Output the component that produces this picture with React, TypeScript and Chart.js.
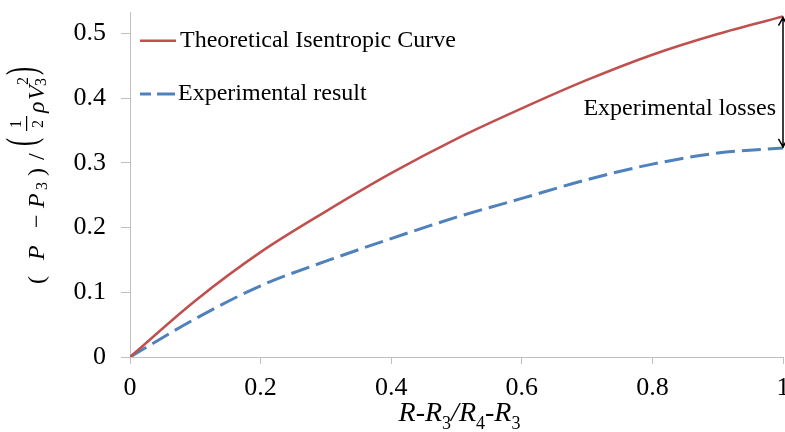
import React, { useEffect, useRef } from 'react';
import { Chart, registerables } from 'chart.js';

Chart.register(...registerables);

const xValues = [0, 0.1, 0.2, 0.3, 0.4, 0.5, 0.6, 0.7, 0.8, 0.9, 1];
const theoretical = [0, 0.087, 0.162, 0.225, 0.284, 0.337, 0.384, 0.428, 0.467, 0.499, 0.526];
const experimental = [0, 0.059, 0.11, 0.148, 0.183, 0.216, 0.245, 0.274, 0.298, 0.315, 0.323];
const xTicks = [0, 0.2, 0.4, 0.6, 0.8, 1];
const xTickLabels = ['0', '0.2', '0.4', '0.6', '0.8', '1'];
const yTicks = [0, 0.1, 0.2, 0.3, 0.4, 0.5];
const yTickLabels = ['0', '0.1', '0.2', '0.3', '0.4', '0.5'];
const seriesNames = ['Theoretical Isentropic Curve', 'Experimental result'];
const annotationText = 'Experimental losses';

const SERIF = '"Liberation Serif", "Times New Roman", serif';
const RED = '#C0504D';
const BLUE = '#4F81BD';
const AXIS = '#BFBFBF';

type Piece = { t: string; it?: boolean; size?: number; u?: number; v?: number; stretch?: number };

const overlayPlugin = {
  id: 'overlay',
  afterDraw(chart: any) {
    const { ctx, chartArea, scales } = chart;
    const xs = scales.x;
    const ys = scales.y;
    ctx.save();

    // ---- legend (inside plot, top-left)
    const lx = chartArea.left + 10;
    ctx.lineWidth = 2.5;
    ctx.strokeStyle = RED;
    ctx.beginPath();
    ctx.moveTo(lx, 40.7);
    ctx.lineTo(lx + 36, 40.7);
    ctx.stroke();
    ctx.strokeStyle = BLUE;
    ctx.lineWidth = 3;
    ctx.setLineDash([18, 6]);
    ctx.lineDashOffset = 7;
    ctx.beginPath();
    ctx.moveTo(lx, 94);
    ctx.lineTo(lx + 35, 94);
    ctx.stroke();
    ctx.setLineDash([]);
    ctx.lineDashOffset = 0;
    ctx.fillStyle = '#000';
    ctx.font = `24px ${SERIF}`;
    ctx.textBaseline = 'middle';
    ctx.textAlign = 'left';
    ctx.fillText(seriesNames[0], lx + 40, 41);
    ctx.fillText(seriesNames[1], lx + 38, 94);

    // ---- double arrow between last points
    const last = xValues.length - 1;
    const ax = xs.getPixelForValue(xValues[last]);
    const y1 = ys.getPixelForValue(theoretical[last]);
    const y2 = ys.getPixelForValue(experimental[last]);
    ctx.strokeStyle = '#000';
    ctx.lineWidth = 1.5;
    ctx.beginPath();
    ctx.moveTo(ax, y1);
    ctx.lineTo(ax, y2);
    ctx.moveTo(ax - 4.5, y1 + 9);
    ctx.lineTo(ax, y1 + 1);
    ctx.lineTo(ax + 4.5, y1 + 9);
    ctx.moveTo(ax - 4.5, y2 - 9);
    ctx.lineTo(ax, y2 - 1);
    ctx.lineTo(ax + 4.5, y2 - 9);
    ctx.stroke();
    ctx.font = `24px ${SERIF}`;
    ctx.textAlign = 'right';
    ctx.textBaseline = 'alphabetic';
    ctx.fillText(annotationText, ax - 7, y1 + 0.75 * (y2 - y1));

    // ---- x axis title: R-R3/R4-R3
    const xPieces: Piece[] = [
      { t: 'R', it: true },
      { t: '-' },
      { t: 'R', it: true },
      { t: '3', size: 18, v: 8 },
      { t: '/', it: true },
      { t: 'R', it: true },
      { t: '4', size: 18, v: 8 },
      { t: '-' },
      { t: 'R', it: true },
      { t: '3', size: 18, v: 8 },
    ];
    const fontOf = (p: Piece, base: number) =>
      `${p.it ? 'italic ' : ''}${p.size || base}px ${SERIF}`;
    let total = 0;
    const widths = xPieces.map((p) => {
      ctx.font = fontOf(p, 28);
      const w = ctx.measureText(p.t).width;
      total += w;
      return w;
    });
    let cx = (chartArea.left + chartArea.right) / 2 + 3 - total / 2;
    const xBase = 421;
    ctx.textAlign = 'left';
    ctx.textBaseline = 'alphabetic';
    xPieces.forEach((p, i) => {
      ctx.font = fontOf(p, 28);
      ctx.fillText(p.t, cx, xBase + (p.v || 0));
      cx += widths[i];
    });

    // ---- y axis title (rotated): (P − P3) / (1/2 ρ V3^2)
    ctx.translate(43.5, 290);
    ctx.rotate(-Math.PI / 2);
    const yPieces: Piece[] = [
      { t: '(', u: 6 },
      { t: 'P', it: true, u: 30 },
      { t: '\u2212', u: 62 },
      { t: 'P', it: true, u: 82 },
      { t: '3', size: 16, u: 100, v: 3 },
      { t: ')', u: 114 },
      { t: '/', u: 130 },
      { t: '(', u: 144, v: 1, stretch: 1.8 },
      { t: 'ρ', it: true, u: 177 },
      { t: 'V', it: true, u: 190 },
      { t: '2', size: 16, u: 205, v: -15.5 },
      { t: '3', size: 16, u: 204, v: 2 },
      { t: ')', u: 215, v: 1, stretch: 1.8 },
    ];
    yPieces.forEach((p) => {
      ctx.font = fontOf(p, 24);
      if (p.stretch) {
        ctx.save();
        // scale perpendicular to the baseline; anchor the paren's centre at v = -18.5
        ctx.translate(p.u || 0, -18.5);
        ctx.scale(1, p.stretch);
        ctx.fillText(p.t, 0, 5.8);
        ctx.restore();
      } else {
        ctx.fillText(p.t, p.u || 0, p.v || 0);
      }
    });
    // fraction 1/2
    ctx.font = `16px ${SERIF}`;
    ctx.textAlign = 'center';
    ctx.fillText('1', 166, -22.8);
    ctx.fillText('2', 166, -0.8);
    ctx.fillRect(159, -17.5, 15, 1.2);

    ctx.restore();
  },
};

export default function App() {
  const ref = useRef<HTMLCanvasElement>(null);
  useEffect(() => {
    const canvas = ref.current;
    if (!canvas) return;
    const chart = new Chart(canvas, {
      type: 'line',
      data: {
        datasets: [
          {
            label: seriesNames[0],
            data: xValues.map((x, i) => ({ x, y: theoretical[i] })),
            borderColor: RED,
            borderWidth: 2.5,
            pointRadius: 0,
            fill: false,
            cubicInterpolationMode: 'monotone',
          },
          {
            label: seriesNames[1],
            data: xValues.map((x, i) => ({ x, y: experimental[i] })),
            borderColor: BLUE,
            borderWidth: 3,
            borderDash: [19, 7],
            pointRadius: 0,
            fill: false,
            cubicInterpolationMode: 'monotone',
          },
        ],
      },
      options: {
        responsive: false,
        animation: false,
        devicePixelRatio: 1,
        layout: { padding: { left: 0, right: 17, top: 12, bottom: 0 } },
        plugins: { legend: { display: false }, tooltip: { enabled: false } },
        scales: {
          x: {
            type: 'linear',
            min: 0,
            max: 1,
            afterBuildTicks: (s: any) => {
              s.ticks = xTicks.map((value) => ({ value }));
            },
            afterFit: (s: any) => {
              s.height = 75;
              s.paddingLeft = 0;
              s.paddingRight = 0;
            },
            grid: { drawOnChartArea: false, drawTicks: true, tickLength: 7, color: AXIS },
            border: { display: true, color: AXIS, width: 1 },
            ticks: {
              padding: 9,
              color: '#000',
              font: { family: SERIF, size: 26 },
              maxRotation: 0,
              callback: (_v: any, i: number) => xTickLabels[i],
            },
          },
          y: {
            type: 'linear',
            min: 0,
            max: 0.533,
            afterBuildTicks: (s: any) => {
              s.ticks = yTicks.map((value) => ({ value }));
            },
            afterFit: (s: any) => {
              s.width = 130;
              s.paddingTop = 0;
              s.paddingBottom = 0;
            },
            grid: { drawOnChartArea: false, drawTicks: true, tickLength: 9, color: AXIS },
            border: { display: true, color: AXIS, width: 1 },
            ticks: {
              padding: 15,
              color: '#000',
              font: { family: SERIF, size: 26 },
              callback: (_v: any, i: number) => yTickLabels[i],
            },
          },
        },
      },
      plugins: [overlayPlugin],
    } as any);
    return () => chart.destroy();
  }, []);
  return (
    <div
      style={{
        position: 'fixed',
        left: 0,
        top: 0,
        width: 785,
        height: 432,
        overflow: 'hidden',
        background: '#fff',
      }}
    >
      <canvas ref={ref} width={800} height={432} style={{ display: 'block' }} />
    </div>
  );
}
